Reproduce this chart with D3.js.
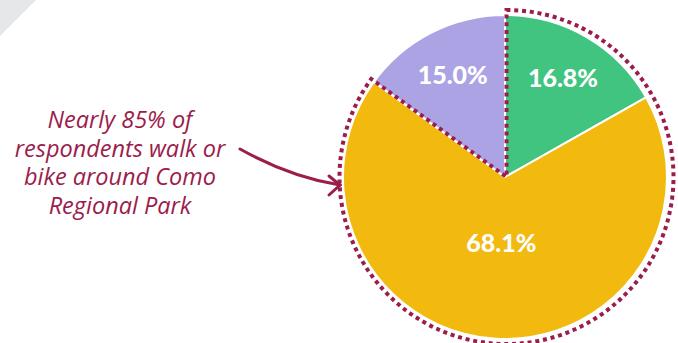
<!DOCTYPE html>
<html>
<head>
<meta charset="utf-8">
<script src="https://cdn.jsdelivr.net/npm/d3@7"></script>
<style>
  html, body { margin: 0; padding: 0; background: #fff; }
  svg { display: block; }
</style>
</head>
<body>
<svg id="chart" width="678" height="343"></svg>
<script>
// Modes of getting around Como Regional Park
const categories = ["Walk", "Bike", "Other"];
const shares = [68.1, 16.8, 15.0];
const sliceLabels = ["68.1%", "16.8%", "15.0%"];
const colors = ["#F2B90F", "#40C47F", "#ACA3E4"];
// slices drawn clockwise from 12 o'clock
const drawOrder = [1, 0, 2];
const noteLines = ["Nearly 85% of", "respondents walk or", "bike around Como", "Regional Park"];

const W = 678, H = 343;
const cx = 505, cy = 177, R = 162;
const maroon = "#9B1D4C";

const svg = d3.select("#chart");

// light grey corner wedge
svg.append("path")
  .attr("d", "M0,0 L36,0 L0,36 Z")
  .attr("fill", "#E6E7E8");

const data = drawOrder.map(i => ({ name: categories[i], value: shares[i], label: sliceLabels[i], color: colors[i] }));

const pie = d3.pie().value(d => d.value).sort(null);
const arcs = pie(data);
const arc = d3.arc().innerRadius(0).outerRadius(R);

const g = svg.append("g").attr("transform", `translate(${cx},${cy})`);

g.selectAll("path.slice")
  .data(arcs)
  .join("path")
  .attr("class", "slice")
  .attr("d", arc)
  .attr("fill", d => d.data.color)
  .attr("stroke", "#fff")
  .attr("stroke-width", 2)
  .attr("stroke-linejoin", "round");

// dotted outline around the walk + bike share
const activeEnd = arcs[0].endAngle + (arcs[1].endAngle - arcs[1].startAngle);
const outline = d3.arc().innerRadius(0).outerRadius(R + 5);
g.append("path")
  .attr("d", outline({ startAngle: 0, endAngle: activeEnd }))
  .attr("transform", "translate(1.5,0)")
  .attr("fill", "none")
  .attr("stroke", maroon)
  .attr("stroke-width", 4)
  .attr("stroke-dasharray", "4 3.8");

// value labels
const labelRadius = d => (d.data.value > 50 ? 0.41 : 0.71) * R;
g.selectAll("text.val")
  .data(arcs)
  .join("text")
  .attr("class", "val")
  .attr("x", d => { const a = (d.startAngle + d.endAngle) / 2; return Math.sin(a) * labelRadius(d); })
  .attr("y", d => { const a = (d.startAngle + d.endAngle) / 2; return -Math.cos(a) * labelRadius(d); })
  .attr("dy", "0.36em")
  .attr("text-anchor", "middle")
  .attr("fill", "#fff")
  .attr("font-family", "Lato, 'Open Sans', sans-serif")
  .attr("font-weight", 900)
  .attr("font-size", 25)
  .text(d => d.data.label);

// annotation
const note = svg.append("text")
  .attr("text-anchor", "middle")
  .attr("fill", maroon)
  .attr("font-family", "'Open Sans', sans-serif")
  .attr("font-style", "italic")
  .attr("font-size", 23.5);
noteLines.forEach((t, i) => {
  note.append("tspan").attr("x", 120).attr("y", 128 + i * 28.5).text(t);
});

// curved arrow pointing to the pie
const arrow = svg.append("g")
  .attr("fill", "none")
  .attr("stroke", maroon)
  .attr("stroke-width", 3)
  .attr("stroke-linecap", "round");
const p = d3.path();
p.moveTo(240, 149);
p.quadraticCurveTo(290, 177, 340, 185);
arrow.append("path").attr("d", p.toString());
arrow.append("path").attr("d", "M329,176 L340,185 L329,195");
</script>
</body>
</html>
